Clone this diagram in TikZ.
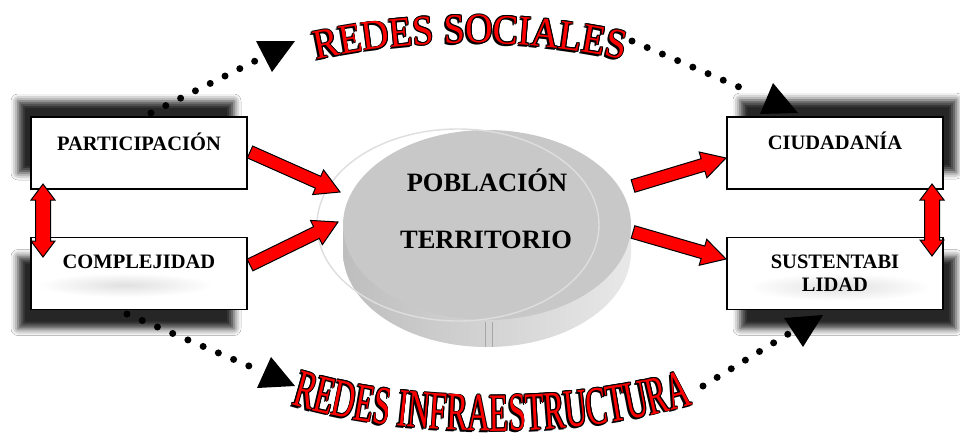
\documentclass[tikz,border=0pt]{standalone}
\usepackage{fontspec}
\setmainfont{Liberation Serif}
\newfontfamily\wordA[FakeStretch=0.9]{Liberation Serif}
\newfontfamily\wordB[FakeStretch=0.58]{Liberation Serif}
\usetikzlibrary{calc,decorations.text,shadows.blur}
\definecolor{cylT}{RGB}{200,200,200}
\definecolor{cylL}{RGB}{190,190,190}
\definecolor{cylR}{RGB}{232,232,232}
\definecolor{ringc}{RGB}{222,222,222}
\tikzset{
  box/.style={draw=black, line width=1.2pt, fill=white, minimum width=216pt,
    minimum height=72pt, inner sep=0pt},
  boxtext/.style={font=\fontsize{20.5}{23}\selectfont\bfseries, align=center},
  sh/.style 2 args={blur shadow={shadow xshift=#1, shadow yshift=#2, shadow blur radius=7pt, shadow opacity=85}},
  redarrow/.style={fill=red, draw=black, line width=1pt, line join=miter},
  dotline/.style={line width=7pt, line cap=round, dash pattern=on 0pt off 16.55pt},
  headtri/.style={fill=black},
  cyltext/.style={font=\fontsize{26.5}{30}\selectfont\bfseries},
  haze/.style={inner color=black!12, outer color=white}
}
\newcommand\blockarrow[3]{%
  \coordinate (#1h) at ($(#3)!24pt!(#2)$);
  \draw[redarrow] ($(#2)!6.5pt!90:(#3)$) -- ($(#1h)!6.5pt!-90:(#2)$) -- ($(#1h)!13.5pt!-90:(#2)$)
    -- (#3) -- ($(#1h)!13.5pt!90:(#2)$) -- ($(#1h)!6.5pt!90:(#2)$) -- ($(#2)!6.5pt!-90:(#3)$) -- cycle;}
\newcommand\dblarrow[3]{%
  \coordinate (#1a) at ($(#2)!16pt!(#3)$);
  \coordinate (#1b) at ($(#3)!16pt!(#2)$);
  \draw[redarrow] (#2) -- ($(#1a)!12pt!-90:(#2)$) -- ($(#1a)!7.5pt!-90:(#2)$)
    -- ($(#1b)!7.5pt!90:(#3)$) -- ($(#1b)!12pt!90:(#3)$) -- (#3)
    -- ($(#1b)!12pt!-90:(#3)$) -- ($(#1b)!7.5pt!-90:(#3)$)
    -- ($(#1a)!7.5pt!90:(#2)$) -- ($(#1a)!12pt!90:(#2)$) -- cycle;}
\newcommand\warc[4]{\path[decorate, decoration={text along path, text align=center, text={#4}}, #1] #3;}
\newcommand\wordart[2]{%
  \foreach \dx/\dy in {-1.8/1.8, 0.9/0, -0.9/0, 0/0.9, 0/-0.9, 0.7/0.7, -0.7/0.7, 0.7/-0.7, -0.7/-0.7}{%
    \warc{shift={(\dx,\dy)}}{black}{#1}{|#2\color{black}|\wordtext}}
  \warc{}{red}{#1}{|#2\color{red}|\wordtext}}
\begin{document}
\begin{tikzpicture}[x=1pt, y=-1pt]
\useasboundingbox[fill=white] (0,0) rectangle (960,442);

% boxes with shadows
\node[box, sh={-13pt}{16pt}] (P) at (139,153) {};
\node[box, sh={-13pt}{-19pt}] (C) at (139,273.5) {};
\node[box, sh={13pt}{17pt}] (Ci) at (835,153) {};
\node[box, sh={13pt}{-19pt}] (S) at (835,273.5) {};
\shade[haze] (125,285) ellipse[x radius=88, y radius=12];
\shade[haze] (840,287) ellipse[x radius=92, y radius=14];
\node[boxtext] (Pt) at (139,142) {PARTICIPACIÓN};
\node[boxtext] (Ct) at (139,262) {COMPLEJIDAD};
\node[boxtext] (Cit) at (835,141) {CIUDADANÍA};
\node[boxtext] (St) at (835,273.5) {SUSTENTABI\\LIDAD};

% cylinder
\shade[left color=cylL, right color=cylR] (343,225) -- (343,252)
  arc[start angle=180, end angle=0, x radius=144, y radius=95] -- (631,225) -- cycle;
\fill[cylT] (487,225) ellipse[x radius=144, y radius=95];
\draw[ringc, line width=1.4pt] (458,225) ellipse[x radius=141, y radius=96];
\draw[black!35, line width=0.6pt] (485,322) -- (485,347) (492,322) -- (492,347);
\node[cyltext] (pob) at (487,180) {POBLACIÓN};
\node[cyltext] (ter) at (486,240) {TERRITORIO};

% red block arrows
\coordinate (a1s) at (250,152);  \coordinate (a1e) at (340,192);
\coordinate (a2s) at (250,265);  \coordinate (a2e) at (338,222);
\coordinate (a3s) at (633,186);  \coordinate (a3e) at (726,158);
\coordinate (a4s) at (633,232);  \coordinate (a4e) at (726,259);
\blockarrow{b1}{a1s}{a1e}
\blockarrow{b2}{a2s}{a2e}
\blockarrow{b3}{a3s}{a3e}
\blockarrow{b4}{a4s}{a4e}

% vertical double arrows
\coordinate (l1) at (43,184); \coordinate (l2) at (43,257);
\coordinate (r1) at (932,184); \coordinate (r2) at (932,256);
\dblarrow{dl}{l1}{l2}
\dblarrow{dr}{r1}{r2}

% dotted connectors
\coordinate (d1s) at (151,113); \coordinate (d1e) at (255.3,60.9);
\coordinate (d2s) at (632,41);  \coordinate (d2e) at (753.3,93.1);
\coordinate (d3s) at (127,314); \coordinate (d3e) at (249.3,366.1);
\coordinate (d4s) at (703,386); \coordinate (d4e) at (788.3,333.9);
\draw[dotline] (d1s) -- (d1e);
\draw[dotline] (d2s) -- (d2e);
\draw[dotline] (d3s) -- (d3e);
\draw[dotline] (d4s) -- (d4e);
\fill[headtri] (256,41) -- (295,41) -- (272,72) -- cycle;
\fill[headtri] (773,83) -- (760,114) -- (798,113) -- cycle;
\fill[headtri] (271,357) -- (257,388) -- (295,386) -- cycle;
\fill[headtri] (784,318) -- (823,315) -- (803,347) -- cycle;

% word art
\def\wordtext{REDES SOCIALES}
\wordart{(298,64) .. controls (415,36) and (525,36) .. (642,64)}{\wordA\fontsize{42}{42}\selectfont}
\def\wordtext{REDES INFRAESTRUCTURA}
\wordart{(272,398) .. controls (395,442) and (585,442) .. (712,398)}{\wordB\fontsize{54}{54}\selectfont}
\end{tikzpicture}
\end{document}
